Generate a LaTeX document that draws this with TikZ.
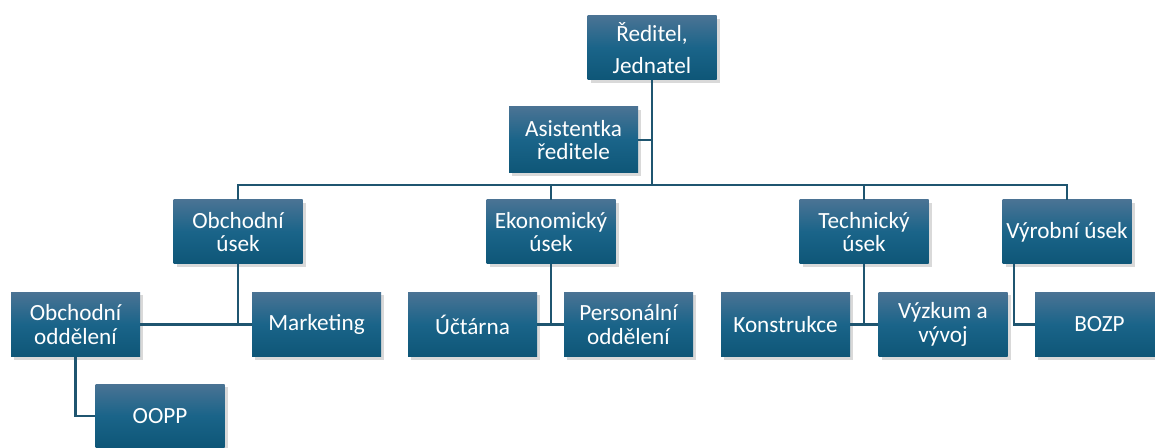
\documentclass[tikz,border=0pt]{standalone}
\usepackage{fontspec}
\setmainfont{Carlito}
\usetikzlibrary{shadows, calc}
\definecolor{boxtop}{HTML}{4A7394}
\definecolor{boxmid}{HTML}{1A6489}
\definecolor{boxbot}{HTML}{0E5677}
\definecolor{linkcol}{HTML}{1F5570}
\tikzstyle{unit} = [rectangle, minimum width=64.5pt, minimum height=32pt, align=center, inner sep=1pt, text=white, top color=boxtop, bottom color=boxbot, middle color=boxmid, drop shadow={opacity=0.3, shadow xshift=1.5pt, shadow yshift=-1.5pt}, font=\fontsize{11.6}{11.8}\selectfont]
\tikzstyle{link} = [line width=1.3pt, draw=linkcol]

\begin{document}
\begin{tikzpicture}[x=0.5pt, y=-0.5pt] % souradnice v pixelech
    \clip (0,0) rectangle (1155,448);
    \coordinate (bus) at (652,185);

    \node (reditel) [unit] at (652,48) {Ředitel,\\[4pt]Jednatel};
    \node (asist) [unit, minimum height=33pt] at (573.5,140) {Asistentka\\ředitele};
    \node (obch) [unit] at (238,232) {Obchodní\\úsek};
    \node (ekon) [unit] at (551,232) {Ekonomický\\úsek};
    \node (tech) [unit] at (864,232) {Technický\\úsek};
    \node (vyrob) [unit] at (1067,232) {Výrobní úsek};
    \node (obodd) [unit] at (75.5,324.5) {Obchodní\\oddělení};
    \node (mark) [unit] at (316.5,324.5) {Marketing};
    \node (uct) [unit] at (472.5,324.5) {Účtárna};
    \node (pers) [unit] at (628.5,324.5) {Personální\\oddělení};
    \node (konst) [unit] at (785.5,324.5) {Konstrukce};
    \node (vyzk) [unit] at (943,324.5) {Výzkum a\\vývoj};
    \node (bozp) [unit] at (1099.5,324.5) {BOZP};
    \node (oopp) [unit] at (160,416) {OOPP};

    \draw [link] (reditel) -- (bus);
    \draw [link] (asist.east) -- (asist.east -| bus);
    \draw [link] (bus) -| (obch);
    \draw [link] (bus) -| (ekon);
    \draw [link] (bus) -| (tech);
    \draw [link] (bus) -| (vyrob);
    \draw [link] (obch) -- (obch |- mark);
    \draw [link] (obodd) -- (mark);
    \draw [link] (ekon) -- (ekon |- uct);
    \draw [link] (uct) -- (pers);
    \draw [link] (tech) -- (tech |- konst);
    \draw [link] (konst) -- (vyzk);
    \draw [link] ($(vyrob.south west)+(12,0)$) |- (bozp); %linka z leveho okraje
    \draw [link] (obodd) |- (oopp);
\end{tikzpicture}
\end{document}
